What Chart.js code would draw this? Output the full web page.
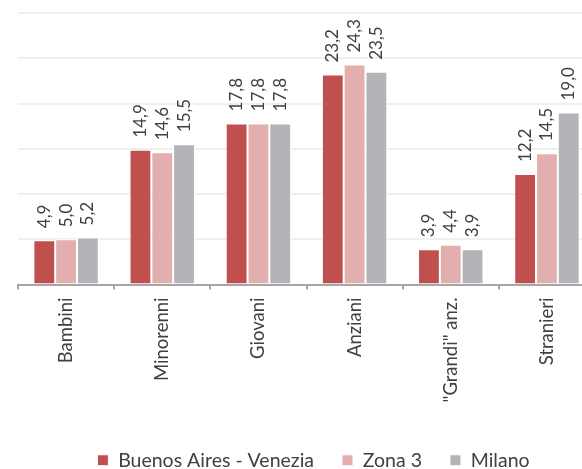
<!DOCTYPE html>
<html>
<head>
<meta charset="utf-8">
<script src="https://cdn.jsdelivr.net/npm/chart.js@4.4.1/dist/chart.umd.min.js"></script>
<style>
html,body{margin:0;padding:0;background:#fff;overflow:hidden;}
#wrap{width:627px;height:480px;}
</style>
</head>
<body>
<div id="wrap"><canvas id="c" width="627" height="480"></canvas></div>
<script>
const categories = ['Bambini', 'Minorenni', 'Giovani', 'Anziani', '"Grandi" anz.', 'Stranieri'];
const seriesNames = ['Buenos Aires - Venezia', 'Zona 3', 'Milano'];
const buenosAires = [4.9, 14.9, 17.8, 23.2, 3.9, 12.2];
const zona3 = [5.0, 14.6, 17.8, 24.3, 4.4, 14.5];
const milano = [5.2, 15.5, 17.8, 23.5, 3.9, 19.0];
const colors = ['#C0504D', '#E3AEAE', '#B3B4B7'];

const labelPlugin = {
  id: 'valueLabels',
  afterDatasetsDraw(chart) {
    const ctx = chart.ctx;
    ctx.save();
    ctx.font = '17px Lato, "Open Sans", sans-serif';
    ctx.fillStyle = '#404040';
    ctx.textAlign = 'left';
    ctx.textBaseline = 'middle';
    chart.data.datasets.forEach((ds, di) => {
      const meta = chart.getDatasetMeta(di);
      meta.data.forEach((el, i) => {
        const txt = ds.data[i].toFixed(1).replace('.', ',');
        ctx.save();
        ctx.translate(el.x, el.y - 12);
        ctx.rotate(-Math.PI / 2);
        ctx.fillText(txt, 0, 0);
        ctx.restore();
      });
    });
    ctx.restore();
  }
};

new Chart(document.getElementById('c'), {
  type: 'bar',
  data: {
    labels: categories,
    datasets: [buenosAires, zona3, milano].map((d, i) => ({
      label: seriesNames[i],
      data: d,
      backgroundColor: colors[i],
      borderColor: '#ffffff',
      borderWidth: 1,
      barPercentage: 1.0,
      categoryPercentage: 0.68
    }))
  },
  options: {
    responsive: false,
    animation: false,
    layout: { padding: { left: 0, right: 0, top: 13, bottom: 0 } },
    plugins: {
      legend: {
        position: 'bottom',
        labels: {
          boxWidth: 11, boxHeight: 11, padding: 28,
          color: '#404040',
          font: { family: 'Lato, "Open Sans", sans-serif', size: 19.5 }
        }
      },
      tooltip: { enabled: false }
    },
    scales: {
      x: {
        grid: { display: true, offset: true, drawOnChartArea: false, drawTicks: true, tickLength: 5, color: '#A6A6A6', lineWidth: 2 },
        border: { display: true, color: '#A6A6A6', width: 2 },
        ticks: {
          minRotation: 90, maxRotation: 90, padding: 8,
          color: '#404040',
          font: { family: 'Lato, "Open Sans", sans-serif', size: 18.5 }
        },
        afterFit(scale) { scale.height = 138; }
      },
      y: {
        min: 0, max: 30,
        ticks: { display: false, stepSize: 5 },
        grid: { color: '#EFEFEF', lineWidth: 2, drawTicks: false },
        border: { display: false },
        afterFit(scale) { scale.width = 18; }
      },
      y2: {
        position: 'right',
        min: 0, max: 30,
        ticks: { display: false },
        grid: { display: false, drawTicks: false },
        border: { display: false },
        afterFit(scale) { scale.width = 32; }
      }
    }
  },
  plugins: [labelPlugin]
});
</script>
</body>
</html>
